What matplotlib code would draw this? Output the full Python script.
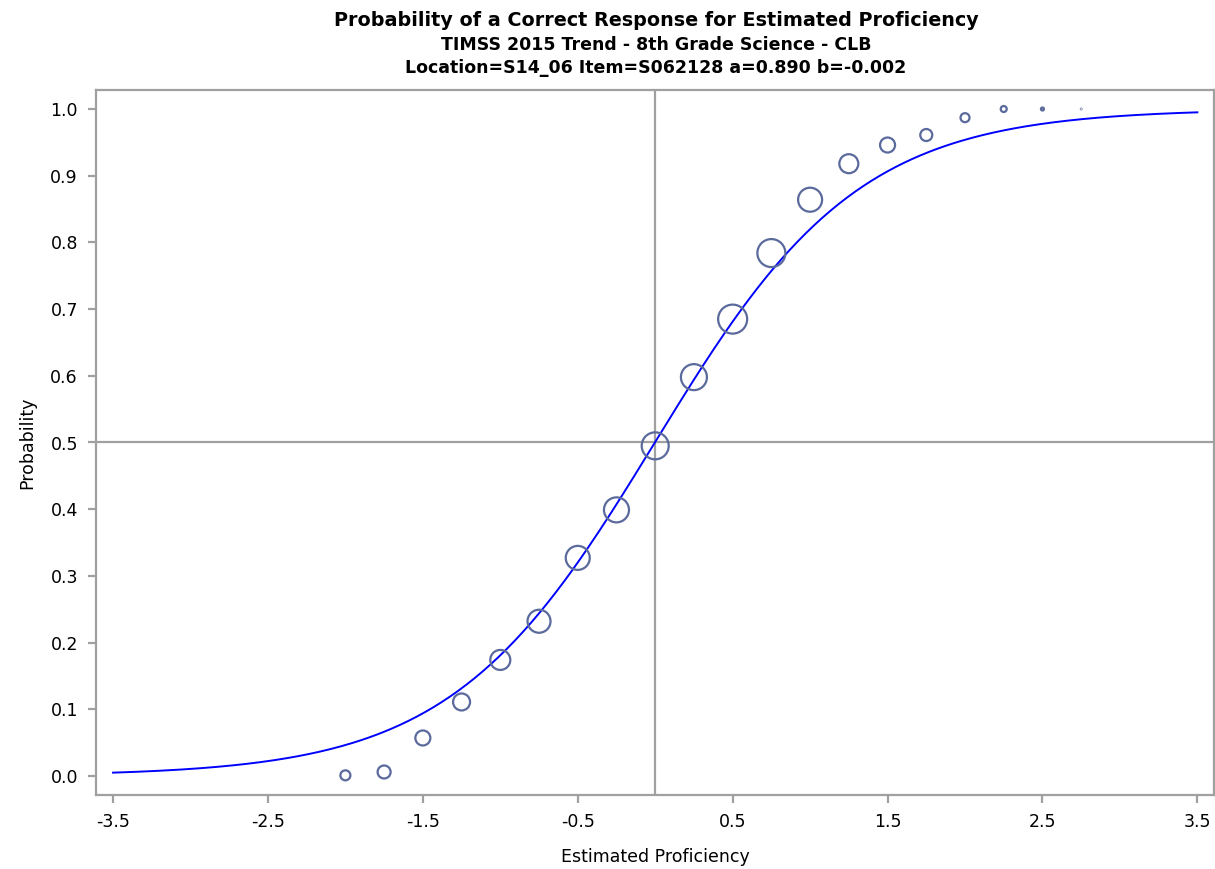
import numpy as np
import matplotlib.pyplot as plt

# item parameters from the title
a_param = 0.890
b_param = -0.002

# observed proportions correct at each proficiency point
theta_obs = [-2.0, -1.75, -1.5, -1.25, -1.0, -0.75, -0.5, -0.25, 0.0, 0.25,
             0.5, 0.75, 1.0, 1.25, 1.5, 1.75, 2.0, 2.25, 2.5, 2.75]
p_obs = [0.001, 0.006, 0.057, 0.111, 0.174, 0.232, 0.327, 0.399, 0.495, 0.598,
         0.685, 0.784, 0.864, 0.918, 0.946, 0.961, 0.987, 1.0, 1.0, 1.0]
# bubble radius (relative weight of each group)
bubble_r = [5, 6.5, 7.5, 8.5, 10, 11.5, 12, 12.5, 13.5, 13,
            14.5, 14, 12, 9.5, 7.5, 6, 4.5, 3, 1.5, 0.3]

x_ticks = [-3.5, -2.5, -1.5, -0.5, 0.5, 1.5, 2.5, 3.5]
y_ticks = np.round(np.arange(0, 1.01, 0.1), 1)

plt.rcParams['font.family'] = ['DejaVu Sans']

fig = plt.figure(figsize=(12.15, 8.69), dpi=100)
ax = fig.add_axes([96 / 1215, 74 / 869, 1 - 96 / 1215 - 0.0005, 705 / 869])

theta = np.linspace(-3.5, 3.5, 400)
curve = 1 / (1 + np.exp(-1.7 * a_param * (theta - b_param)))

ax.axhline(0.5, color='#a0a0a0', lw=1.6, zorder=1)
ax.axvline(0.0, color='#a0a0a0', lw=1.6, zorder=1)
ax.plot(theta, curve, color='#0000ff', lw=1.4, zorder=2)

sizes = [(2 * r / (100 / 72)) ** 2 for r in bubble_r]
ax.scatter(theta_obs, p_obs, s=sizes, facecolors='none', edgecolors='#5b6a9c',
           linewidths=1.6, zorder=3)

ax.set_xlim(-3.61, 3.61)
ax.set_ylim(-0.0285, 1.0285)
ax.set_xticks(x_ticks)
ax.set_xticklabels([f'{t:.1f}' for t in x_ticks])
ax.set_yticks(y_ticks)
ax.set_yticklabels([f'{t:.1f}' for t in y_ticks])

for s in ax.spines.values():
    s.set_color('#a0a0a0')
    s.set_linewidth(1.6)
ax.tick_params(direction='out', length=6, width=1.6, color='#a0a0a0',
               labelsize=12.5, labelcolor='black', pad=7)

ax.set_xlabel('Estimated Proficiency', fontsize=12.5, labelpad=12)
ax.set_ylabel('Probability', fontsize=12.5, labelpad=10)

cx = 656 / 1215
fig.text(cx, 1 - 20 / 869, 'Probability of a Correct Response for Estimated Proficiency',
         ha='center', va='center', fontsize=13.8, fontweight='bold')
fig.text(cx, 1 - 45 / 869, 'TIMSS 2015 Trend - 8th Grade Science - CLB',
         ha='center', va='center', fontsize=12.5, fontweight='bold')
fig.text(cx, 1 - 68 / 869, 'Location=S14_06 Item=S062128 a=0.890 b=-0.002',
         ha='center', va='center', fontsize=12.5, fontweight='bold')

fig.savefig('out.png', dpi=100)
